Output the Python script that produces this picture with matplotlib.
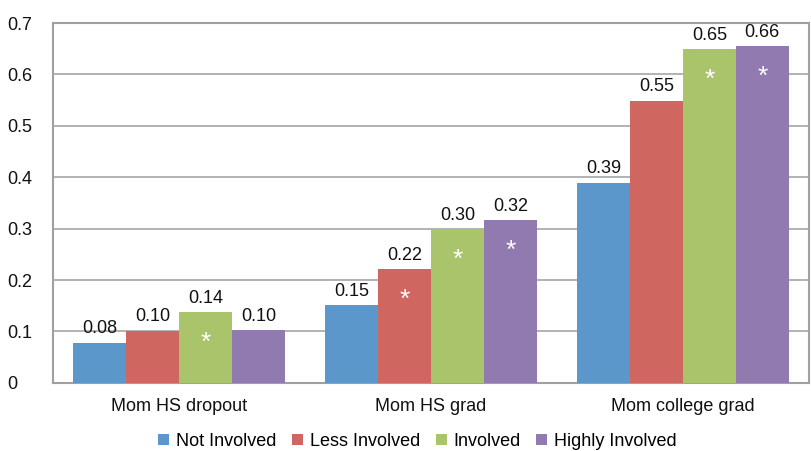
import matplotlib.pyplot as plt
import numpy as np

plt.rcParams['font.family'] = ['Liberation Sans', 'DejaVu Sans']

categories = ["Mom HS dropout", "Mom HS grad", "Mom college grad"]
series = ["Not Involved", "Less Involved", "Involved", "Highly Involved"]
not_involved = [0.078, 0.151, 0.389]
less_involved = [0.101, 0.221, 0.549]
involved = [0.137, 0.299, 0.649]
highly_involved = [0.102, 0.316, 0.655]
# which bars carry a significance asterisk
star_less = [False, True, False]
star_inv = [True, True, True]
star_high = [False, True, True]

values = [not_involved, less_involved, involved, highly_involved]
stars = [[False] * 3, star_less, star_inv, star_high]
colors = ["#5B97CB", "#CF6660", "#A9C46A", "#917AB0"]

fig = plt.figure(figsize=(8.11, 4.51), dpi=100)
ax = fig.add_axes([0.0654, 0.151, 0.932, 0.798])

x = np.arange(len(categories))
w = 0.21
for i, (vals, col, name) in enumerate(zip(values, colors, series)):
    pos = x + (i - 1.5) * w
    bars = ax.bar(pos, vals, width=w, color=col, label=name, zorder=3)
    for b, v, s in zip(bars, vals, stars[i]):
        ax.annotate(f"{v:.2f}", (b.get_x() + b.get_width() / 2, v),
                    xytext=(0, 4), textcoords="offset points",
                    ha="center", va="bottom", fontsize=13, color="#111111")
        if s:
            ax.annotate("*", (b.get_x() + b.get_width() / 2, v),
                        xytext=(0, -22), textcoords="offset points",
                        ha="center", va="center", fontsize=19, color="white", zorder=4)

ax.set_ylim(0, 0.7)
ax.set_xlim(-0.5, 2.5)
ax.set_yticks(np.arange(0, 0.71, 0.1))
ax.set_yticklabels(["0", "0.1", "0.2", "0.3", "0.4", "0.5", "0.6", "0.7"])
ax.set_xticks(x)
ax.set_xticklabels(categories)
ax.tick_params(length=0, labelsize=13, colors="#111111")
ax.tick_params(axis="y", pad=33)
ax.tick_params(axis="x", pad=11)
for lab in ax.get_yticklabels():
    lab.set_horizontalalignment("left")
ax.grid(axis="y", color="#A6A6A6", linewidth=1.2, zorder=0)
for sp in ax.spines.values():
    sp.set_color("#A0A0A0")
    sp.set_linewidth(1.5)

fig.legend(loc="center", bbox_to_anchor=(0.515, 0.021), ncol=4, frameon=False,
           fontsize=13, handlelength=0.6, handleheight=0.6, handletextpad=0.4,
           columnspacing=0.85, borderpad=0)

plt.savefig("out.png", dpi=100)
